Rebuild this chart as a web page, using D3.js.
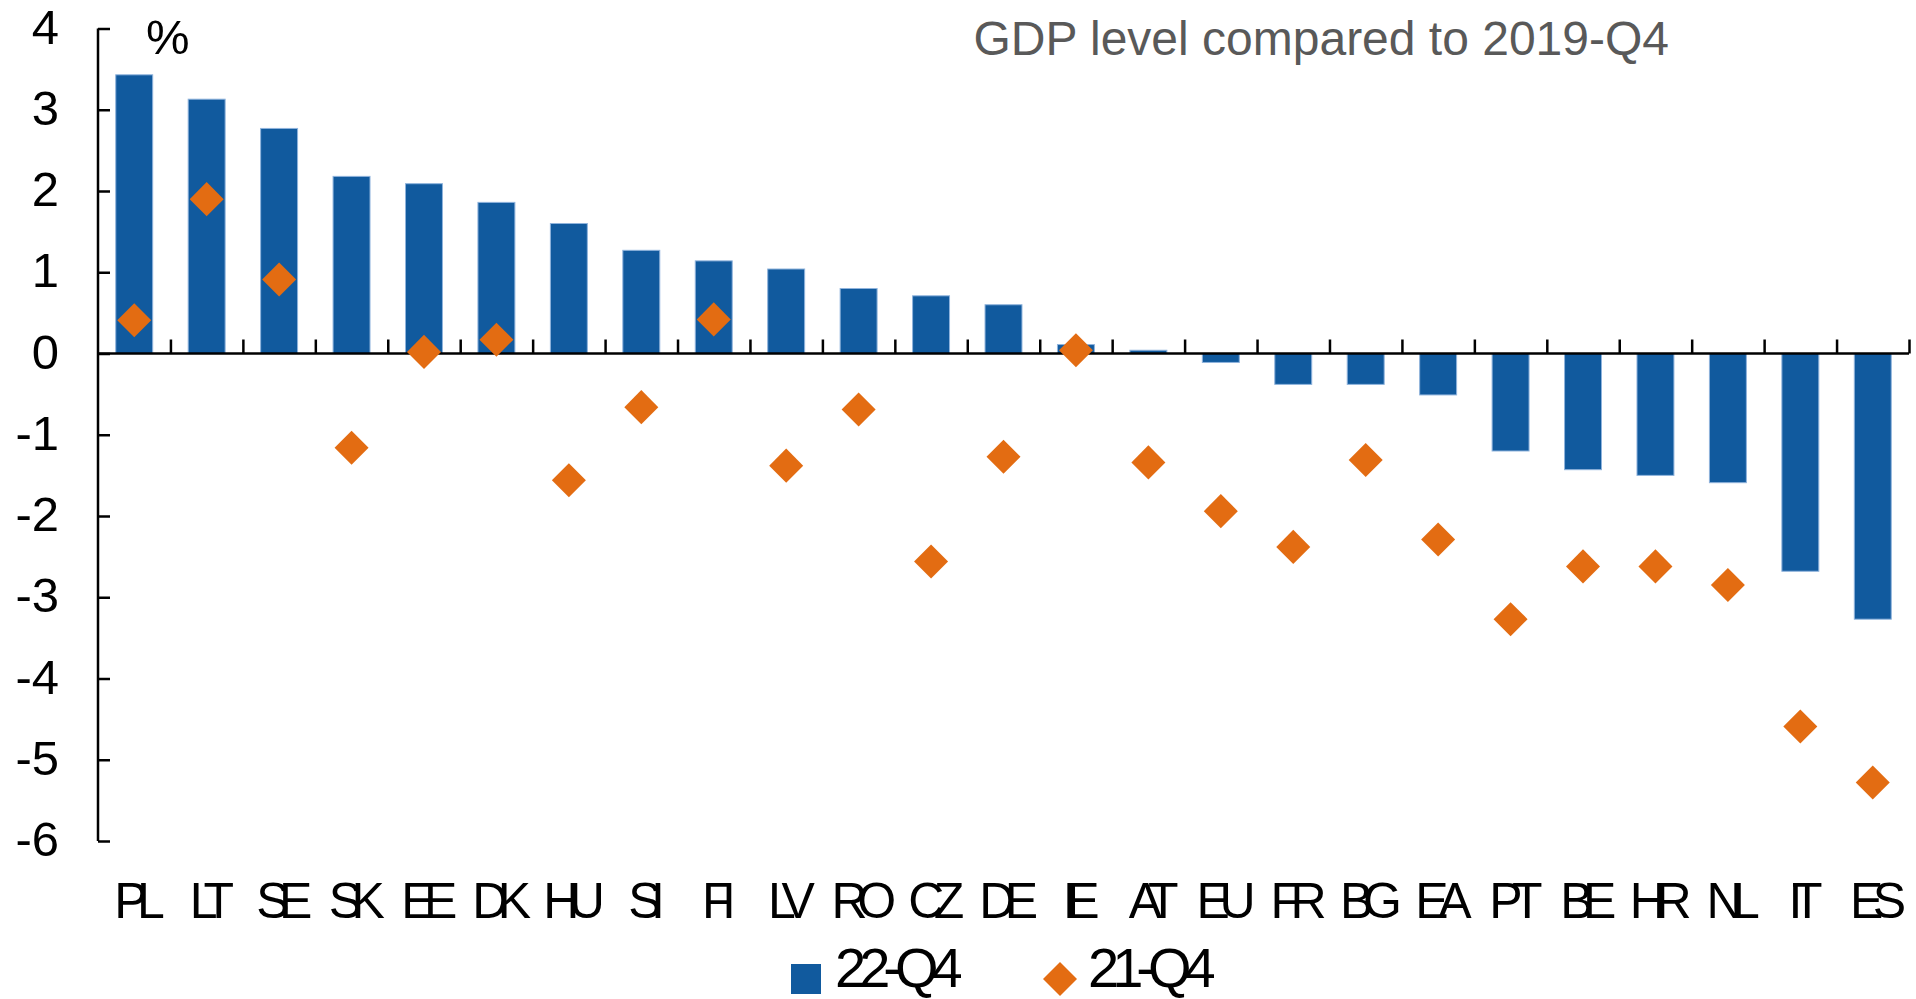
<!DOCTYPE html>
<html>
<head>
<meta charset="utf-8">
<script src="https://cdn.jsdelivr.net/npm/d3@7"></script>
<style>
  html, body { margin: 0; padding: 0; background: #fff; }
  svg { display: block; font-family: "Liberation Sans", Arial, Helvetica, sans-serif; }
</style>
</head>
<body>
<svg id="chart" width="1916" height="999"></svg>
<script>
// ---- data ----
const categories = ["PL","LT","SE","SK","EE","DK","HU","SI","FI","LV","RO","CZ","DE","IE","AT","EU","FR","BG","EA","PT","BE","HR","NL","IT","ES"];
const q4_2022 = [3.43,3.13,2.77,2.18,2.09,1.86,1.60,1.27,1.14,1.04,0.80,0.71,0.60,0.11,0.04,-0.11,-0.38,-0.38,-0.51,-1.20,-1.43,-1.50,-1.59,-2.68,-3.27];
const q4_2021 = [0.41,1.90,0.91,-1.16,0.02,0.17,-1.56,-0.66,0.42,-1.38,-0.69,-2.56,-1.27,0.04,-1.34,-1.94,-2.38,-1.31,-2.29,-3.27,-2.62,-2.62,-2.85,-4.59,-5.28];
const yTicks = [4,3,2,1,0,-1,-2,-3,-4,-5,-6];
const seriesNames = ["22-Q4","21-Q4"];
const title = "GDP level compared to 2019-Q4";
const unitLabel = "%";

// ---- styling ----
const blue = "#115A9E";
const orange = "#E36C12";

const svg = d3.select("#chart");
svg.append("rect").attr("width",1916).attr("height",999).attr("fill","#fff");

const x0 = 98, x1 = 1909;
const x = d3.scaleBand().domain(categories).range([x0, x1]).paddingInner(0.49).paddingOuter(0.245);
const y = d3.scaleLinear().domain([-6, 4]).range([841, 28.5]);

// bars
svg.append("g").selectAll("rect").data(categories).join("rect")
  .attr("x", d => x(d))
  .attr("width", x.bandwidth())
  .attr("y", (d,i) => Math.min(y(q4_2022[i]), y(0)))
  .attr("height", (d,i) => Math.abs(y(q4_2022[i]) - y(0)))
  .attr("fill", blue)
  .attr("stroke", "#8fb3dc")
  .attr("stroke-width", 1);

// y axis
const yAxis = d3.axisRight(y).tickValues(yTicks).tickSize(12).tickFormat("");
const gy = svg.append("g").attr("transform", `translate(${x0},0)`).call(yAxis);
gy.select(".domain").attr("stroke","#000").attr("stroke-width",2.5).attr("d", `M0,${y(4)}V${y(-6)}`);
gy.selectAll(".tick line").attr("stroke","#000").attr("stroke-width",2.5);

// y tick labels
svg.append("g").selectAll("text").data(yTicks).join("text")
  .attr("x", 59)
  .attr("y", d => y(d) + 15)
  .attr("text-anchor","end")
  .attr("font-size", 49)
  .attr("fill","#000")
  .text(d => d);

// x axis at zero with upward ticks at category boundaries
const xb = d3.scaleLinear().domain([0, categories.length]).range([x0, x1]);
const boundaries = d3.range(1, categories.length + 1);
const xAxis = d3.axisTop(xb).tickValues(boundaries).tickSize(14).tickFormat("");
const gx = svg.append("g").attr("transform", `translate(0,${y(0)})`).call(xAxis);
gx.select(".domain").attr("stroke","#000").attr("stroke-width",2.5).attr("d", `M${x0},0H${x1}`);
gx.selectAll(".tick line").attr("stroke","#000").attr("stroke-width",2.5);

// diamonds
const diamond = d3.symbol().type(d3.symbolSquare).size(578);
svg.append("g").selectAll("path").data(categories).join("path")
  .attr("d", diamond)
  .attr("transform", (d,i) => `translate(${x(d) + x.bandwidth()/2},${y(q4_2021[i])}) rotate(45)`)
  .attr("fill", orange);

// category labels
svg.append("g").selectAll("text").data(categories).join("text")
  .attr("x", d => x(d) + x.bandwidth()/2)
  .attr("y", 918)
  .attr("text-anchor","middle")
  .attr("font-size", 50)
  .attr("letter-spacing", "-10.5px")
  .attr("fill","#000")
  .text(d => d);

// unit label
svg.append("text").attr("x", 146).attr("y", 54).attr("font-size", 49).attr("fill","#000").text(unitLabel);

// title
svg.append("text").attr("x", 1669).attr("y", 55).attr("text-anchor","end")
  .attr("font-size", 48).attr("fill","#595959").text(title);

// legend
const lg = svg.append("g");
lg.append("rect").attr("x", 791).attr("y", 964).attr("width", 30).attr("height", 30).attr("fill", blue);
lg.append("text").attr("x", 835).attr("y", 987).attr("font-size", 56).attr("letter-spacing","-7px").attr("fill","#000").text(seriesNames[0]);
lg.append("path").attr("d", diamond).attr("transform", "translate(1060,979) rotate(45)").attr("fill", orange);
lg.append("text").attr("x", 1088).attr("y", 987).attr("font-size", 56).attr("letter-spacing","-7px").attr("fill","#000").text(seriesNames[1]);
</script>
</body>
</html>
